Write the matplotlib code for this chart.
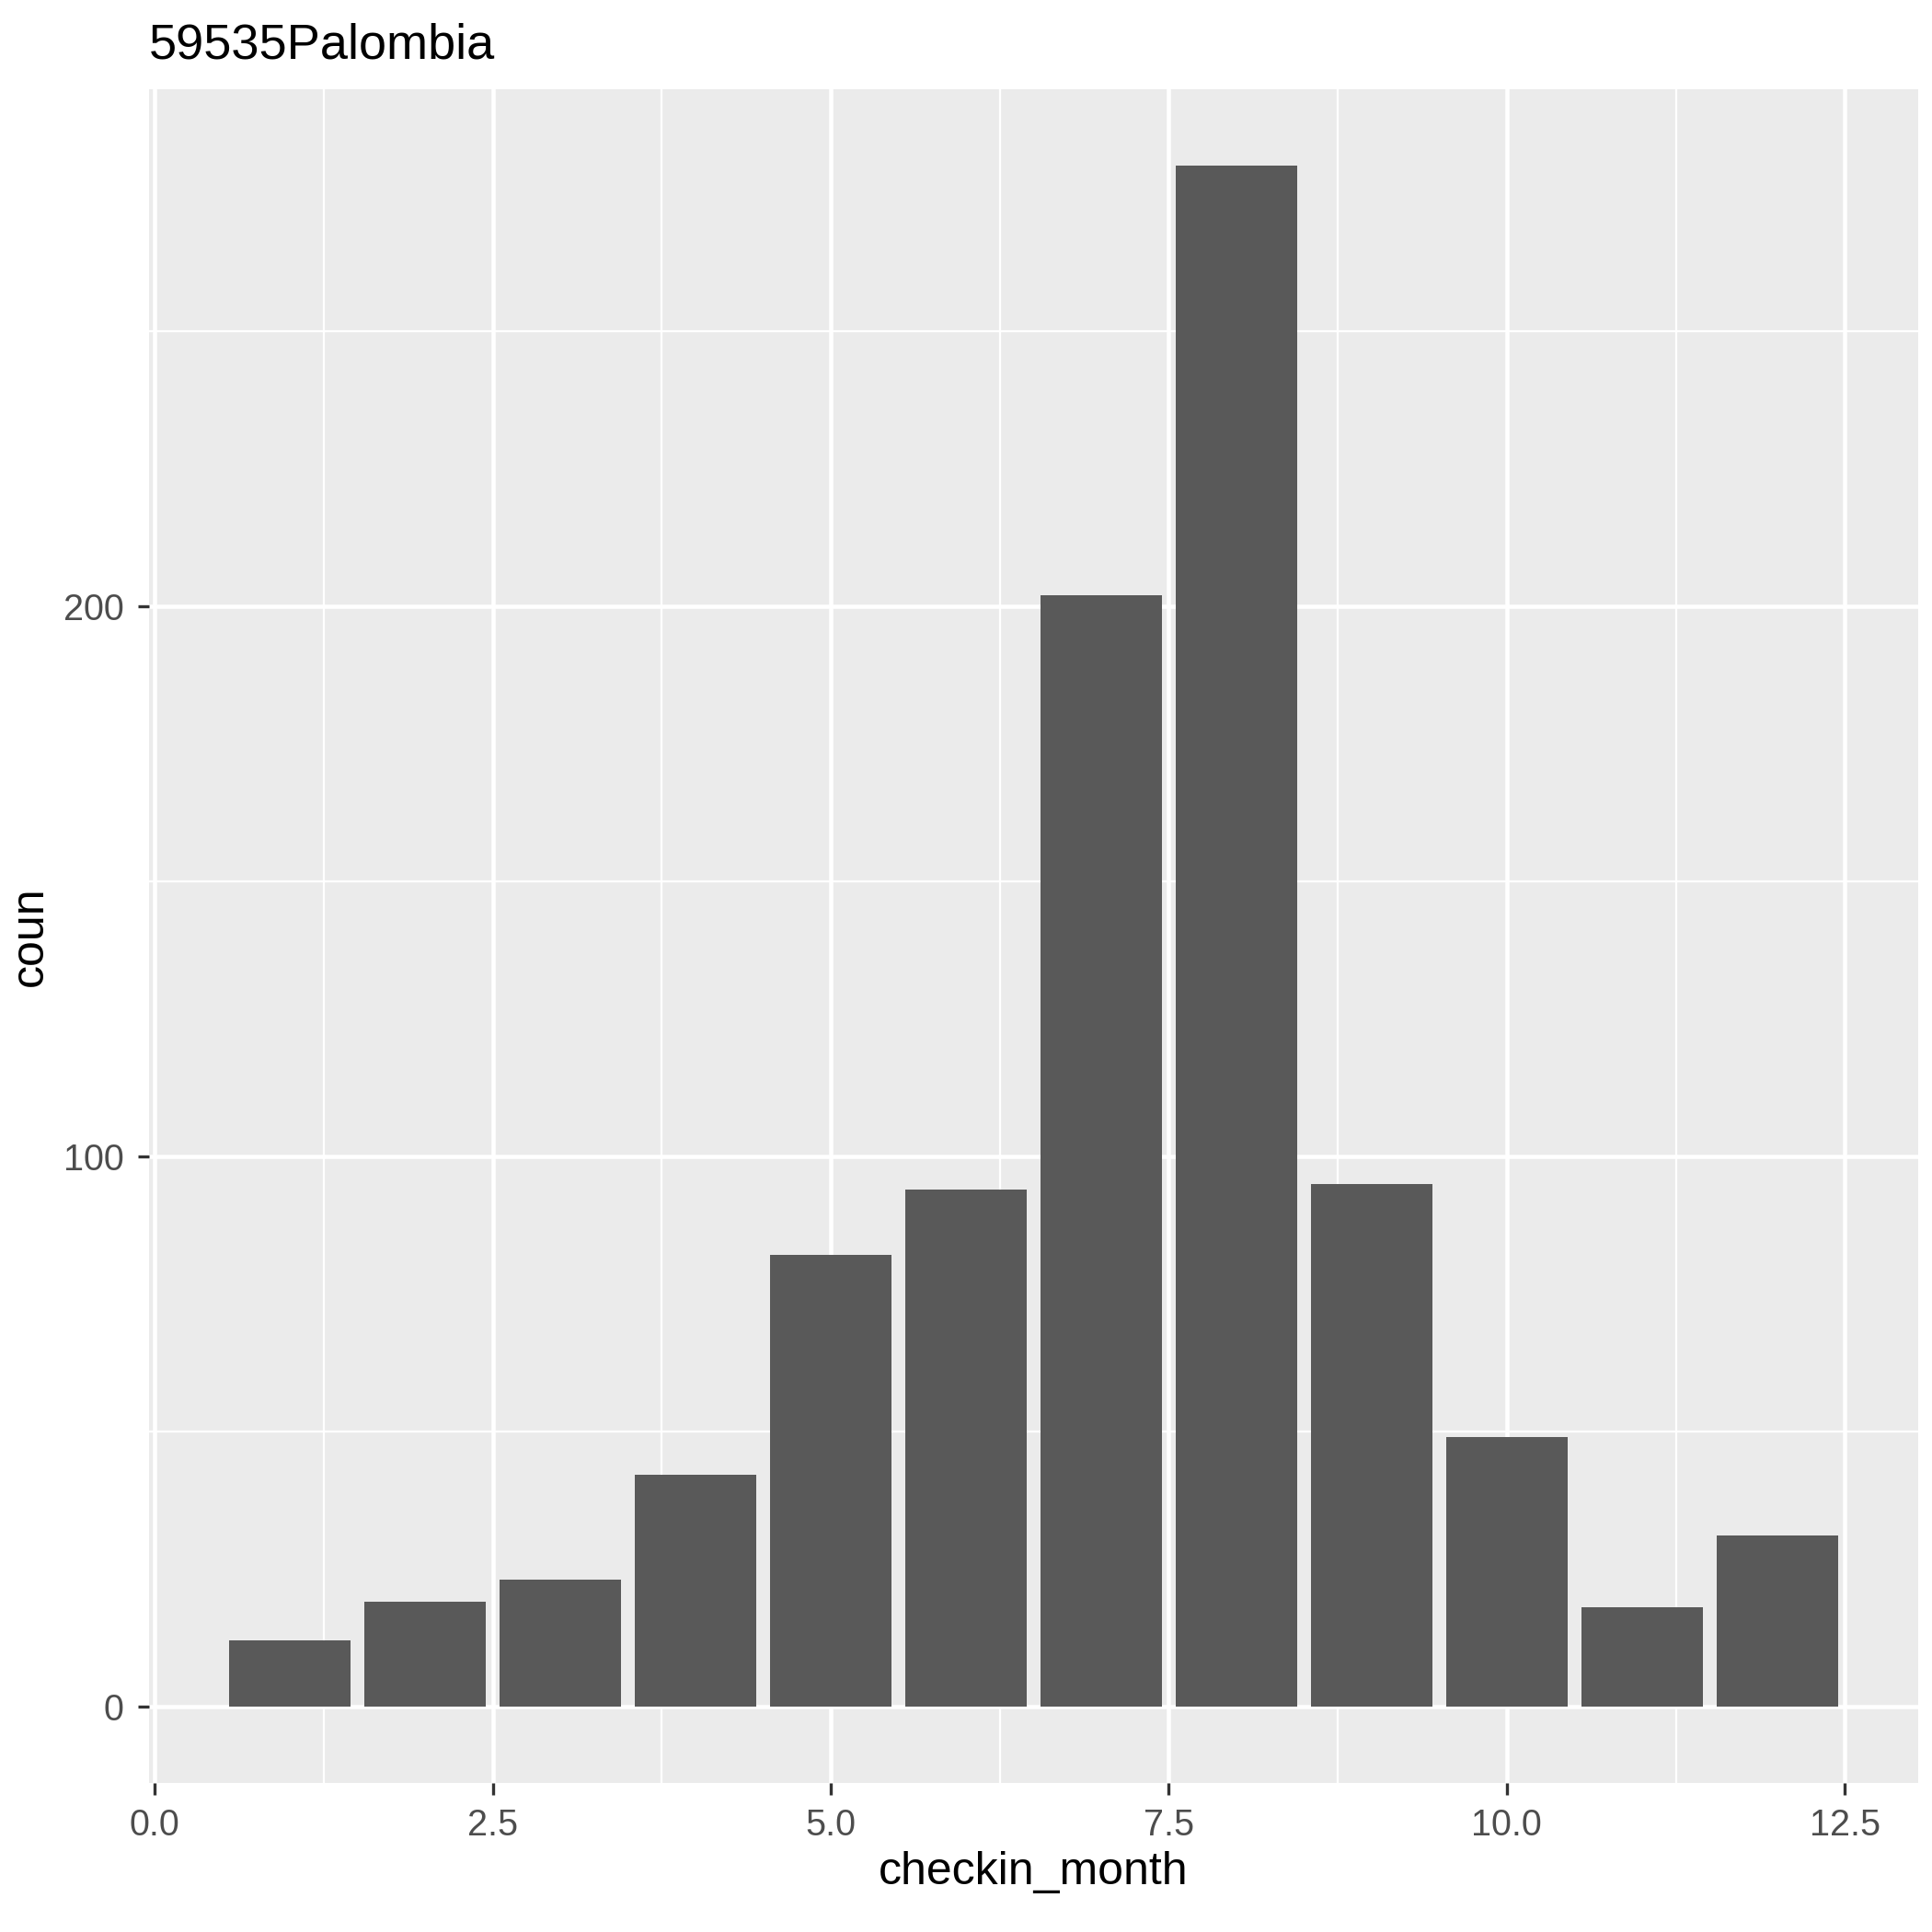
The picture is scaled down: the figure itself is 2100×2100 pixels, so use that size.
import matplotlib.pyplot as plt
import numpy as np

plt.rcParams['font.family'] = ['Liberation Sans', 'DejaVu Sans']

months = [1, 2, 3, 4, 5, 6, 7, 8, 9, 10, 11, 12]
counts = [12, 19, 23, 42, 82, 94, 202, 280, 95, 49, 18, 31]
title = "59535Palombia"

fig = plt.figure(figsize=(7, 7), dpi=300)
ax = fig.add_axes([0.077, 0.077, 0.916, 0.877])
ax.set_facecolor("#EBEBEB")

ax.bar(months, counts, width=0.9, color="#595959", zorder=3)

ax.set_xlim(-0.045, 13.045)
ax.set_ylim(-14, 294)
ax.set_xticks([0, 2.5, 5, 7.5, 10, 12.5])
ax.set_xticklabels(["0.0", "2.5", "5.0", "7.5", "10.0", "12.5"])
ax.set_yticks([0, 100, 200])
ax.set_xticks([1.25, 3.75, 6.25, 8.75, 11.25], minor=True)
ax.set_yticks([50, 150, 250], minor=True)
ax.grid(which="major", color="white", linewidth=1.1, zorder=0)
ax.grid(which="minor", color="white", linewidth=0.55, zorder=0)
ax.set_axisbelow(True)
for s in ax.spines.values():
    s.set_visible(False)
ax.tick_params(which="major", length=3, color="#333333", labelcolor="#4D4D4D", labelsize=9.5)
ax.tick_params(which="minor", length=0)

ax.set_xlabel("checkin_month", fontsize=12, labelpad=2)
ax.set_ylabel("coun", fontsize=12, labelpad=3)
ax.set_title(title, loc="left", fontsize=13, pad=8)

fig.savefig("out.png", dpi=300)
